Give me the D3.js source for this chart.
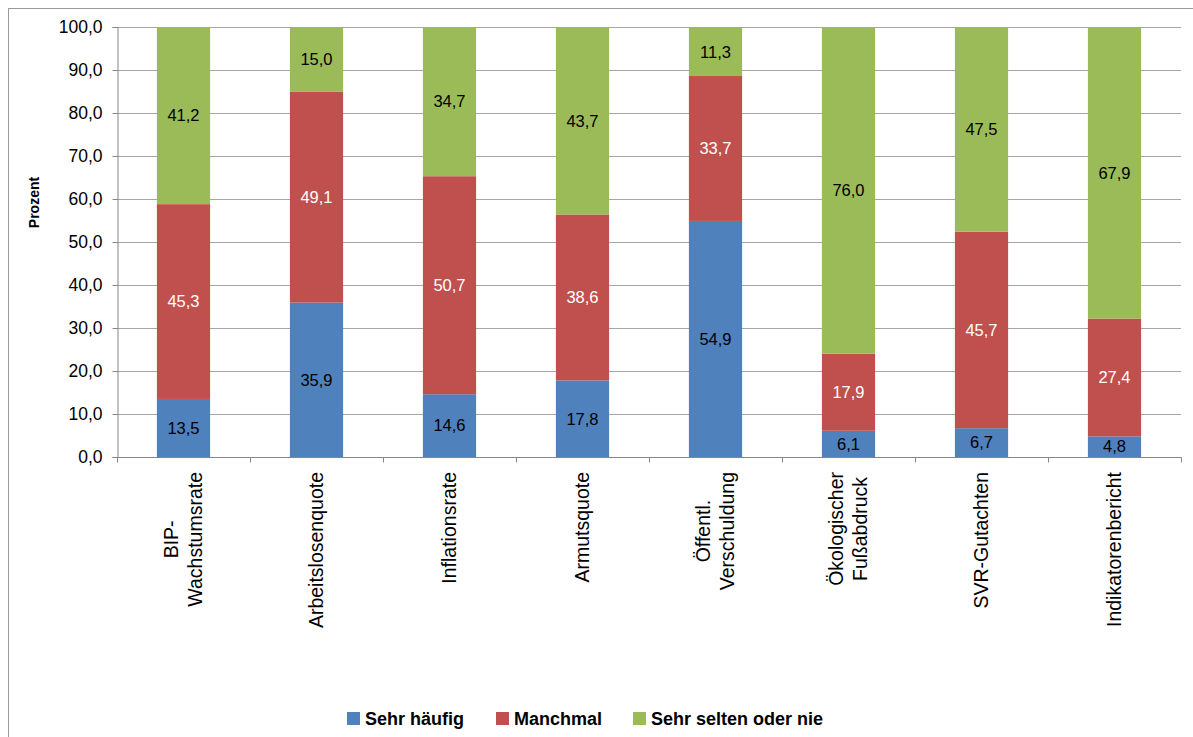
<!DOCTYPE html>
<html><head><meta charset="utf-8">
<script src="https://cdn.jsdelivr.net/npm/d3@7"></script>
<style>body{margin:0;background:#fff}svg{display:block;font-family:"Liberation Sans",Arial,sans-serif}</style>
</head><body><svg id="c" width="1193" height="737"></svg>
<script>
const categories = [["BIP-","Wachstumsrate"],["Arbeitslosenquote"],["Inflationsrate"],["Armutsquote"],["Öffentl.","Verschuldung"],["Ökologischer","Fußabdruck"],["SVR-Gutachten"],["Indikatorenbericht"]];
const seriesNames = ["Sehr häufig","Manchmal","Sehr selten oder nie"];
const sehrHaeufig = [13.5,35.9,14.6,17.8,54.9,6.1,6.7,4.8];
const manchmal = [45.3,49.1,50.7,38.6,33.7,17.9,45.7,27.4];
const selten = [41.2,15.0,34.7,43.7,11.3,76.0,47.5,67.9];
const yTicks = [0,10,20,30,40,50,60,70,80,90,100];
const colors = ["#4F81BD","#C0504D","#9BBB59"];
const labelColors = ["#000","#fff","#000"];

const svg = d3.select("#c");
svg.append("rect").attr("x",8.5).attr("y",8.5).attr("width",1200).attr("height",800).attr("fill","#fff").attr("stroke","#9a9a9a");

const L=117, R=1181, T=27, B=457;
const x = d3.scaleBand().domain(d3.range(categories.length)).range([L,R]).paddingInner(0.6).paddingOuter(0.3);
const xb = d3.scaleBand().domain(d3.range(categories.length)).range([L,R]);
const y = d3.scaleLinear().domain([0,100]).range([B,T]);
const fmt = v => d3.format(".1f")(v).replace(".",",");

// gridlines
svg.append("g").selectAll("line").data(yTicks.filter(d=>d>0)).join("line")
  .attr("x1",L).attr("x2",R).attr("y1",d=>y(d)+0.5).attr("y2",d=>y(d)+0.5).attr("stroke","#a6a6a6").attr("stroke-width",1);

const data = categories.map((c,i)=>({i, vals:[sehrHaeufig[i],manchmal[i],selten[i]]}));
const stackData = data.map(d=>{let acc=0;return d.vals.map((v,s)=>{const y0=acc;acc+=v;return {i:d.i,s,v,y0,y1:Math.min(acc,100)};});}).flat();

svg.append("g").selectAll("rect").data(stackData).join("rect")
  .attr("x",d=>x(d.i)).attr("width",x.bandwidth())
  .attr("y",d=>y(d.y1)).attr("height",d=>y(d.y0)-y(d.y1))
  .attr("fill",d=>colors[d.s]);

svg.append("g").selectAll("text").data(stackData).join("text")
  .attr("x",d=>x(d.i)+x.bandwidth()/2).attr("y",d=>y((d.y0+d.y1)/2)).attr("dy","0.35em")
  .attr("text-anchor","middle").attr("font-size",16.5).attr("fill",d=>labelColors[d.s]).text(d=>fmt(d.v));

// y axis
const ya = svg.append("g").attr("transform",`translate(${L+0.5},0)`)
  .call(d3.axisLeft(y).tickValues(yTicks).tickFormat(fmt).tickSizeOuter(0).tickSize(5).tickPadding(10));
ya.select(".domain").attr("stroke","#868686");
ya.selectAll(".tick line").attr("stroke","#868686");
ya.selectAll(".tick text").attr("font-size",17.5).attr("fill","#000").attr("font-family","Liberation Sans, Arial, sans-serif");

// x axis
const xa = svg.append("g").attr("transform",`translate(0,${B+0.5})`);
xa.append("line").attr("x1",L).attr("x2",R+0.5).attr("stroke","#868686");
xa.selectAll("line.t").data(d3.range(categories.length+1)).join("line").attr("class","t")
  .attr("x1",d=>(d<categories.length?xb(d):R)+0.5).attr("x2",d=>(d<categories.length?xb(d):R)+0.5)
  .attr("y1",0).attr("y2",5).attr("stroke","#868686");

// category labels rotated
categories.forEach((lines,i)=>{
  const cx = x(i)+x.bandwidth()/2;
  const t = svg.append("text").attr("font-size",19.5).attr("fill","#000")
    .attr("text-anchor","middle");
  const lh = 24;
  lines.forEach((ln,k)=>{
    t.append("tspan").attr("x",0).attr("y",(k-(lines.length-1)/2)*lh).attr("dy","0.35em").text(ln);
  });
  let maxLen = 0;
  t.selectAll("tspan").each(function(){maxLen=Math.max(maxLen,this.getComputedTextLength());});
  const top = 472;
  t.attr("transform",`translate(${cx},${top+maxLen/2}) rotate(-90)`);
});

// y title
svg.append("text").attr("transform","translate(39,202.5) rotate(-90)").attr("text-anchor","middle")
  .style("font-size","14px").style("font-weight","bold").attr("fill","#000").text("Prozent");

// legend
const legX = [347,496,633];
seriesNames.forEach((n,s)=>{
  svg.append("rect").attr("x",legX[s]).attr("y",712).attr("width",13).attr("height",13).attr("fill",colors[s]);
  svg.append("text").attr("x",legX[s]+18).attr("y",718.5).attr("dy","0.35em").attr("font-size",18).attr("font-weight","bold").text(n);
});
</script></body></html>
